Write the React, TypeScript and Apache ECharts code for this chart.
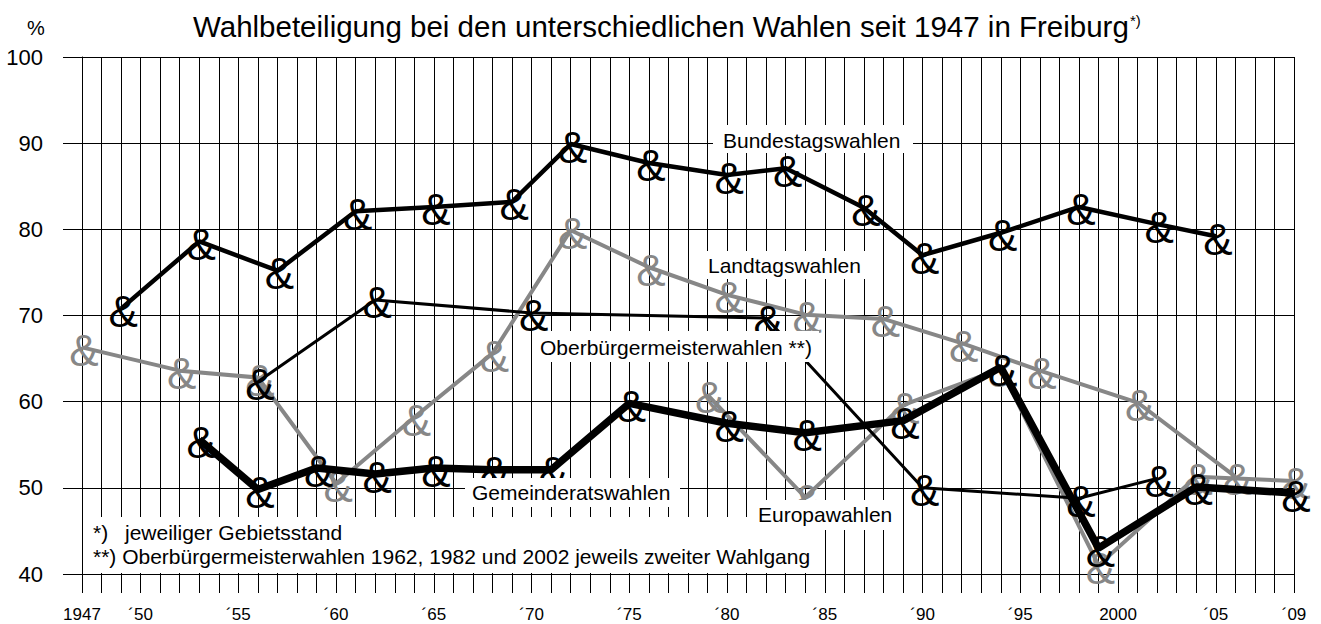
import React, { useEffect, useRef } from 'react';
import * as echarts from 'echarts';

const FONT = '"Liberation Sans", Arial, Helvetica, sans-serif';
const BLACK = '#000000';
const GRAY = '#878787';

// Bundestagswahlen
const bundYears = [1949, 1953, 1957, 1961, 1965, 1969, 1972, 1976, 1980, 1983, 1987, 1990, 1994, 1998, 2002, 2005];
const bundVals = [70.8, 78.6, 75.2, 82.1, 82.6, 83.2, 89.9, 87.7, 86.3, 87.1, 82.5, 77.0, 79.6, 82.6, 80.6, 79.2];

// Landtagswahlen
const landYears = [1947, 1952, 1956, 1960, 1964, 1968, 1972, 1976, 1980, 1984, 1988, 1992, 1996, 2001, 2006];
const landVals = [66.3, 63.6, 62.8, 50.5, 58.2, 65.6, 79.9, 75.6, 72.4, 70.1, 69.6, 66.8, 63.6, 59.9, 51.3];

// Oberbürgermeisterwahlen
const obYears = [1956, 1962, 1970, 1982, 1990, 1998, 2002];
const obVals = [62.3, 71.8, 70.3, 69.7, 50.0, 48.8, 51.1];

// Gemeinderatswahlen
const gemYears = [1953, 1956, 1959, 1962, 1965, 1968, 1971, 1975, 1980, 1984, 1989, 1994, 1999, 2004, 2009];
const gemVals = [55.6, 49.8, 52.3, 51.6, 52.3, 52.1, 52.1, 59.8, 57.5, 56.4, 57.8, 64.0, 43.0, 50.1, 49.4];

// Europawahlen
const euroYears = [1979, 1984, 1989, 1994, 1999, 2004, 2009];
const euroVals = [60.8, 48.9, 59.6, 63.8, 41.0, 51.3, 50.8];

// x tick labels
const xLabelYears = [1947, 1950, 1955, 1960, 1965, 1970, 1975, 1980, 1985, 1990, 1995, 2000, 2005, 2009];
const xLabelTexts = ['1947', '´50', '´55', '´60', '´65', '´70', '´75', '´80', '´85', '´90', '´95', '2000', '´05', '´09'];

function makeSeries(name: string, years: number[], vals: number[], color: string, width: number, z: number) {
  return {
    type: 'line',
    name,
    data: years.map((y, i) => [y, vals[i]]),
    symbol: 'circle',
    symbolSize: 2,
    itemStyle: { color: 'rgba(0,0,0,0)' },
    lineStyle: { color, width },
    label: {
      show: true,
      formatter: '&',
      position: 'inside',
      color,
      fontSize: 44,
      fontFamily: FONT,
      textBorderWidth: 0,
      offset: [2, 3],
    },
    clip: false,
    silent: true,
    z,
    emphasis: { disabled: true },
  };
}

function boxText(text: string, x: number, y: number, bx: number, by: number, bw: number, bh: number, size = 21) {
  return [
    { type: 'rect', z: 100, silent: true, shape: { x: bx, y: by, width: bw, height: bh }, style: { fill: '#ffffff' } },
    { type: 'text', z: 101, silent: true, x, y, style: { text, font: `${size}px ${FONT}`, fill: BLACK, textAlign: 'left', textVerticalAlign: 'middle', verticalAlign: 'middle' } },
  ];
}

export default function App() {
  const ref = useRef<HTMLDivElement>(null);
  useEffect(() => {
    const chart = echarts.init(ref.current!, null, { renderer: 'svg' });
    const labelMap: Record<number, string> = {};
    xLabelYears.forEach((y, i) => (labelMap[y] = xLabelTexts[i]));
    chart.setOption({
      animation: false,
      textStyle: { fontFamily: FONT },
      grid: { left: 82, right: 27, top: 57, bottom: 50, containLabel: false },
      xAxis: {
        type: 'value',
        min: 1947,
        max: 2009,
        interval: 1,
        axisLine: { show: true, lineStyle: { color: BLACK, width: 1 } },
        axisTick: { show: true, length: 19, lineStyle: { color: BLACK, width: 1 } },
        axisLabel: {
          formatter: (v: number) => labelMap[Math.round(v)] ?? '',
          fontSize: 17,
          color: BLACK,
          margin: 32,
          fontFamily: FONT,
        },
        splitLine: { show: true, lineStyle: { color: BLACK, width: 1 } },
      },
      yAxis: {
        type: 'value',
        min: 40,
        max: 100,
        interval: 10,
        axisLine: { show: true, lineStyle: { color: BLACK, width: 1 } },
        axisTick: { show: true, length: 19, lineStyle: { color: BLACK, width: 1 } },
        axisLabel: { fontSize: 22, color: BLACK, margin: 39, fontFamily: FONT },
        splitLine: { show: true, lineStyle: { color: BLACK, width: 1 } },
      },
      series: [
        makeSeries('Landtagswahlen', landYears, landVals, GRAY, 4, 3),
        makeSeries('Europawahlen', euroYears, euroVals, GRAY, 4, 4),
        makeSeries('Bundestagswahlen', bundYears, bundVals, BLACK, 4.5, 5),
        makeSeries('Oberbürgermeisterwahlen', obYears, obVals, BLACK, 3, 6),
        makeSeries('Gemeinderatswahlen', gemYears, gemVals, BLACK, 7.5, 7),
      ],
      graphic: [
        { type: 'text', z: 101, silent: true, x: 27, y: 28, style: { text: '%', font: `20px ${FONT}`, fill: BLACK, textVerticalAlign: 'middle', verticalAlign: 'middle' } },
        { type: 'text', z: 101, silent: true, x: 193, y: 26, style: { text: 'Wahlbeteiligung bei den unterschiedlichen Wahlen seit 1947 in Freiburg', font: `29.5px ${FONT}`, fill: BLACK, textVerticalAlign: 'middle', verticalAlign: 'middle' } },
        { type: 'text', z: 101, silent: true, x: 1130, y: 20, style: { text: '*)', font: `15px ${FONT}`, fill: BLACK, textVerticalAlign: 'middle', verticalAlign: 'middle' } },
        ...boxText('Bundestagswahlen', 723, 140, 713, 125, 200, 28),
        ...boxText('Landtagswahlen', 708, 265, 700, 251, 171, 28),
        ...boxText('Oberbürgermeisterwahlen **)', 540, 347, 535, 331, 284, 31),
        ...boxText('Gemeinderatswahlen', 472, 492, 465, 478, 215, 29),
        ...boxText('Europawahlen', 758, 514, 750, 500, 150, 30),
        { type: 'rect', z: 100, silent: true, shape: { x: 84, y: 517, width: 740, height: 56 }, style: { fill: '#ffffff' } },
        { type: 'text', z: 101, silent: true, x: 93, y: 532, style: { text: '*)', font: `21px ${FONT}`, fill: BLACK, textVerticalAlign: 'middle', verticalAlign: 'middle' } },
        { type: 'text', z: 101, silent: true, x: 125, y: 532, style: { text: 'jeweiliger Gebietsstand', font: `21px ${FONT}`, fill: BLACK, textVerticalAlign: 'middle', verticalAlign: 'middle' } },
        { type: 'text', z: 101, silent: true, x: 93, y: 556, style: { text: '**) Oberbürgermeisterwahlen 1962, 1982 und 2002 jeweils zweiter Wahlgang', font: `21px ${FONT}`, fill: BLACK, textVerticalAlign: 'middle', verticalAlign: 'middle' } },
      ],
    });
    return () => chart.dispose();
  }, []);
  return (
    <div
      ref={ref}
      style={{ position: 'absolute', left: 0, top: 0, width: 1321, height: 624, background: '#ffffff' }}
    />
  );
}
